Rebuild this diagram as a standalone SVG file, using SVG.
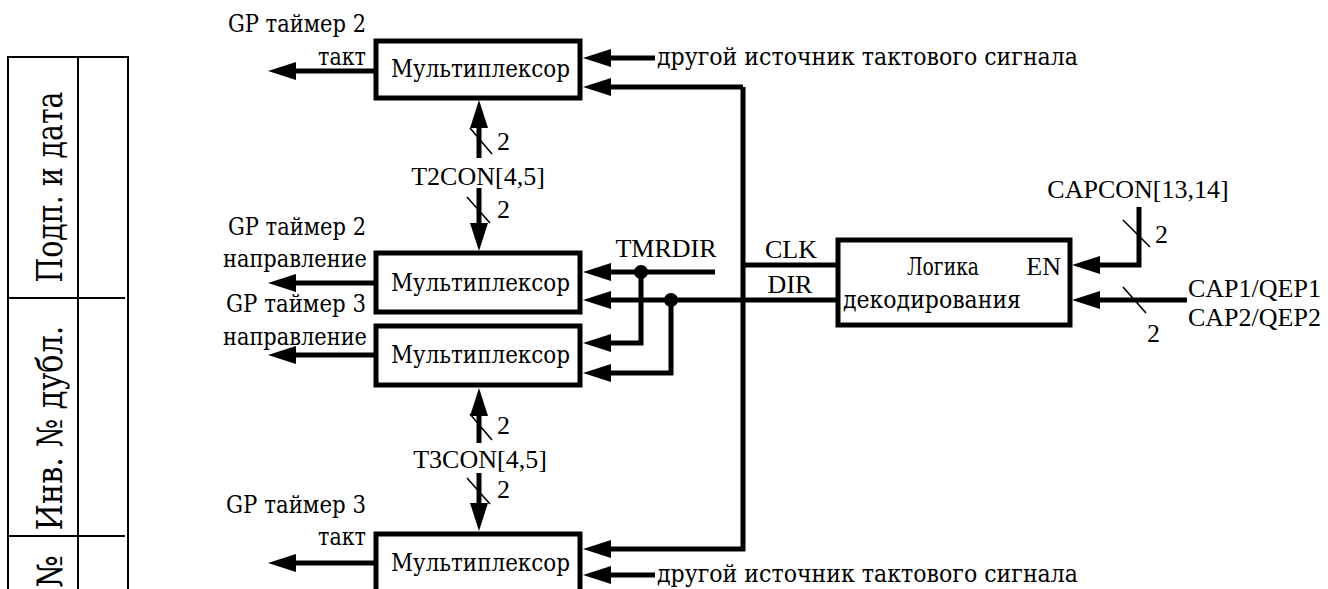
<svg xmlns="http://www.w3.org/2000/svg" width="1328" height="589" viewBox="0 0 1328 589">
<style>
text{font-family:"Liberation Serif","Times New Roman",serif;font-size:26px;fill:#000}
.c{font-family:"DejaVu Serif","Liberation Serif",serif;font-size:25px}
.side{font-size:35px}
.box{fill:#fff;stroke:#000;stroke-width:5}
.w{fill:none;stroke:#000;stroke-width:5}
.a{marker-end:url(#ah)}
.sl{stroke:#000;stroke-width:1.6;fill:none}
.fr{stroke:#000;stroke-width:2;fill:none}
.m{text-anchor:middle}
.e{text-anchor:end}
</style>
<defs>
<marker id="ah" viewBox="0 0 28 18" refX="1" refY="9" markerWidth="28" markerHeight="18" markerUnits="userSpaceOnUse" orient="auto">
<path d="M0,0 L28,9 L0,18 Z" fill="#000"/>
</marker>
</defs>
<rect width="1328" height="589" fill="#fff"/>

<g id="frame">
<path class="fr" d="M8,589 V57 H128 V589 M78,57 V589 M8,298 H125 M8,536 H125"/>
<text class="c side m" transform="translate(62,187) rotate(-90)" textLength="191" lengthAdjust="spacingAndGlyphs">Подп. и дата</text>
<text class="c side m" transform="translate(62,428) rotate(-90)" textLength="205" lengthAdjust="spacingAndGlyphs">Инв. №  дубл.</text>
<text class="c side e" transform="translate(62,555) rotate(-90)" textLength="33" lengthAdjust="spacingAndGlyphs">№</text>
</g>

<g id="connectors">
<path class="w a" d="M376,71 H295"/>
<path class="w a" d="M376,283 H295"/>
<path class="w a" d="M376,355 H295"/>
<path class="w a" d="M376,563 H295"/>
<path class="w a" d="M655,58 H610"/>
<path class="w a" d="M743,87 H610"/>
<path class="w a" d="M743,87 V549 H610"/>
<path class="w a" d="M655,575 H610"/>
<path class="w a" d="M715,272 H610"/>
<path class="w a" d="M838,300 H610"/>
<path class="w a" d="M641,272 V343 H610"/>
<path class="w a" d="M671,300 V373 H610"/>
<path class="w" d="M743,265 H838"/>
<circle cx="641" cy="272" r="7" fill="#000"/>
<circle cx="671" cy="300" r="7" fill="#000"/>
<path class="w a" d="M479,158 V127"/>
<path class="w a" d="M479,188 V224"/>
<path class="w a" d="M479,443 V415"/>
<path class="w a" d="M479,473 V504"/>
<path class="w a" d="M1139,207 V265 H1099"/>
<path class="w a" d="M1187,300 H1099"/>
<path class="sl" d="M470,128 L492,154 M467,197 L490,223 M470,414 L492,440 M467,478 L490,504 M1123,220 L1150,247 M1123,287 L1146,313"/>
<text x="497" y="150">2</text>
<text x="497" y="218">2</text>
<text x="497" y="434">2</text>
<text x="497" y="498">2</text>
<text x="1155" y="243">2</text>
<text x="1147" y="342">2</text>
<text class="m" x="478" y="185">T2CON[4,5]</text>
<text class="m" x="480" y="468">T3CON[4,5]</text>
<text class="m" x="666" y="257">TMRDIR</text>
<text class="m" x="791" y="258">CLK</text>
<text class="m" x="790" y="293">DIR</text>
<text class="m" x="1138" y="198">CAPCON[13,14]</text>
<text x="1188" y="297">CAP1/QEP1</text>
<text x="1188" y="326">CAP2/QEP2</text>
<text class="c" x="657" y="65" textLength="421" lengthAdjust="spacingAndGlyphs">другой источник тактового сигнала</text>
<text class="c" x="657" y="582" textLength="421" lengthAdjust="spacingAndGlyphs">другой источник тактового сигнала</text>
<text class="c" x="228" y="32" textLength="138" lengthAdjust="spacingAndGlyphs">GP таймер 2</text>
<text class="c" x="318" y="65" textLength="48" lengthAdjust="spacingAndGlyphs">такт</text>
<text class="c" x="228" y="235" textLength="138" lengthAdjust="spacingAndGlyphs">GP таймер 2</text>
<text class="c" x="223" y="267" textLength="144" lengthAdjust="spacingAndGlyphs">направление</text>
<text class="c" x="226" y="312" textLength="140" lengthAdjust="spacingAndGlyphs">GP таймер 3</text>
<text class="c" x="223" y="345" textLength="144" lengthAdjust="spacingAndGlyphs">направление</text>
<text class="c" x="226" y="513" textLength="140" lengthAdjust="spacingAndGlyphs">GP таймер 3</text>
<text class="c" x="318" y="545" textLength="48" lengthAdjust="spacingAndGlyphs">такт</text>
</g>

<g id="mux1">
<rect class="box" x="376" y="41" width="204" height="57"/>
<text class="c" x="391" y="77" textLength="179" lengthAdjust="spacingAndGlyphs">Мультиплексор</text>
</g>
<g id="mux2">
<rect class="box" x="376" y="253" width="204" height="59"/>
<text class="c" x="391" y="291" textLength="179" lengthAdjust="spacingAndGlyphs">Мультиплексор</text>
</g>
<g id="mux3">
<rect class="box" x="376" y="326" width="204" height="59"/>
<text class="c" x="391" y="363" textLength="179" lengthAdjust="spacingAndGlyphs">Мультиплексор</text>
</g>
<g id="mux4">
<rect class="box" x="376" y="534" width="204" height="70"/>
<text class="c" x="391" y="571" textLength="179" lengthAdjust="spacingAndGlyphs">Мультиплексор</text>
</g>
<g id="logic">
<rect class="box" x="838" y="240" width="232" height="85"/>
<text class="c" x="907" y="275" textLength="72" lengthAdjust="spacingAndGlyphs">Логика</text>
<text class="e" x="1061" y="275">EN</text>
<text class="c" x="843" y="308" textLength="178" lengthAdjust="spacingAndGlyphs">декодирования</text>
</g>
</svg>
